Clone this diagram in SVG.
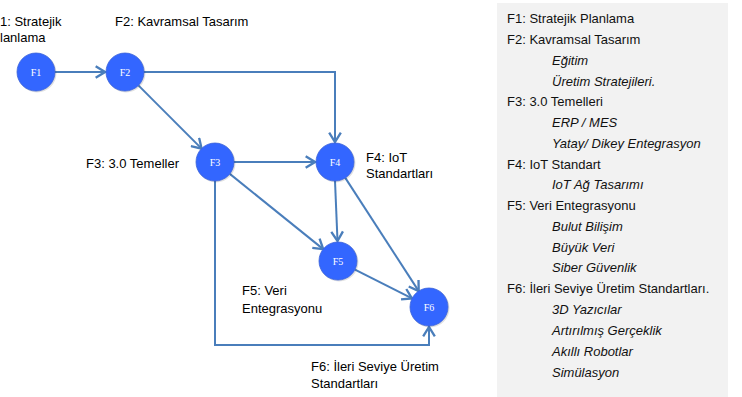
<svg xmlns="http://www.w3.org/2000/svg" width="742" height="397" viewBox="0 0 742 397">
<style>
.lbl{font-family:"Liberation Sans",Arial,sans-serif;font-size:13px;fill:#000}
.pt{font-family:"Liberation Sans",Arial,sans-serif;font-size:13px;fill:#111}
.it{font-style:italic}
.node circle.c{fill:#3366ff;stroke:#3a62d8;stroke-width:0.8}
.node circle.s{fill:#000;opacity:0.12}
.node text{font-family:"Liberation Serif","Times New Roman",serif;font-size:10px;fill:#fff;text-anchor:middle}
.edge{fill:none;stroke:#4a7ebb;stroke-width:2;marker-end:url(#arr)}
</style>
<defs>
<marker id="arr" markerUnits="userSpaceOnUse" markerWidth="14" markerHeight="14" refX="10" refY="6" orient="auto" viewBox="0 0 12 12">
<path d="M2,1 L10,6 L2,11" fill="none" stroke="#4a7ebb" stroke-width="2" stroke-linejoin="miter"/>
</marker>
</defs>
<rect x="497" y="3" width="231" height="394" fill="#f2f2f2"/>
<g id="connectors">
<path class="edge" d="M55,72 L105,72"/>
<path class="edge" d="M144,72 L335,72 L335,142"/>
<path class="edge" d="M138.4,85.4 L201.6,148.6"/>
<path class="edge" d="M234,162 L315,162"/>
<path class="edge" d="M229.8,173.9 L323.2,249.1"/>
<path class="edge" d="M215,181 L215,345 L429,345 L429,327"/>
<path class="edge" d="M335,181 L337.5,241"/>
<path class="edge" d="M345.3,177.9 L418.7,291.1"/>
<path class="edge" d="M355,269.6 L412,298.4"/>
</g>
<g id="F1" class="node"><circle class="s" cx="37" cy="73" r="19.5"/><circle class="c" cx="36" cy="72" r="19"/><text x="36" y="75.5">F1</text></g>
<g id="F2" class="node"><circle class="s" cx="126" cy="73" r="19.5"/><circle class="c" cx="125" cy="72" r="19"/><text x="125" y="75.5">F2</text></g>
<g id="F3" class="node"><circle class="s" cx="216" cy="163" r="19.5"/><circle class="c" cx="215" cy="162" r="19"/><text x="215" y="165.5">F3</text></g>
<g id="F4" class="node"><circle class="s" cx="336" cy="163" r="19.5"/><circle class="c" cx="335" cy="162" r="19"/><text x="335" y="165.5">F4</text></g>
<g id="F5" class="node"><circle class="s" cx="339" cy="262" r="19.5"/><circle class="c" cx="338" cy="261" r="19"/><text x="338" y="264.5">F5</text></g>
<g id="F6" class="node"><circle class="s" cx="430" cy="308" r="19.5"/><circle class="c" cx="429" cy="307" r="19"/><text x="429" y="310.5">F6</text></g>
<g id="labels">
<text class="lbl" x="0" y="26">1: Stratejik</text>
<text class="lbl" x="0" y="42">lanlama</text>
<text class="lbl" x="115" y="26">F2: Kavramsal Tasarım</text>
<text class="lbl" x="86" y="168">F3: 3.0 Temeller</text>
<text class="lbl" x="366" y="162">F4: IoT</text>
<text class="lbl" x="366" y="178">Standartları</text>
<text class="lbl" x="242" y="295">F5: Veri</text>
<text class="lbl" x="242" y="313">Entegrasyonu</text>
<text class="lbl" x="311" y="371">F6: İleri Seviye Üretim</text>
<text class="lbl" x="311" y="388">Standartları</text>
</g>
<g id="panel">
<text class="pt" x="507" y="23">F1: Stratejik Planlama</text>
<text class="pt" x="507" y="44">F2: Kavramsal Tasarım</text>
<text class="pt it" x="552" y="65">Eğitim</text>
<text class="pt it" x="552" y="86">Üretim Stratejileri.</text>
<text class="pt" x="507" y="106">F3: 3.0 Temelleri</text>
<text class="pt it" x="552" y="127">ERP / MES</text>
<text class="pt it" x="552" y="148">Yatay/ Dikey Entegrasyon</text>
<text class="pt" x="507" y="169">F4: IoT Standart</text>
<text class="pt it" x="552" y="189">IoT Ağ Tasarımı</text>
<text class="pt" x="507" y="210">F5: Veri Entegrasyonu</text>
<text class="pt it" x="552" y="231">Bulut Bilişim</text>
<text class="pt it" x="552" y="252">Büyük Veri</text>
<text class="pt it" x="552" y="272">Siber Güvenlik</text>
<text class="pt" x="507" y="293">F6: İleri Seviye Üretim Standartları.</text>
<text class="pt it" x="552" y="314">3D Yazıcılar</text>
<text class="pt it" x="552" y="335">Artırılmış Gerçeklik</text>
<text class="pt it" x="552" y="356">Akıllı Robotlar</text>
<text class="pt it" x="552" y="377">Simülasyon</text>
</g>
</svg>
